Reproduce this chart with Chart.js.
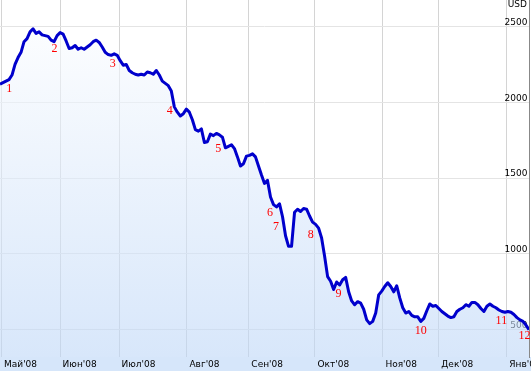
<!DOCTYPE html>
<html>
<head>
<meta charset="utf-8">
<script src="https://cdn.jsdelivr.net/npm/chart.js@4.4.1/dist/chart.umd.min.js"></script>
<style>
  html, body { margin: 0; padding: 0; background: #fff; }
  canvas { display: block; }
</style>
</head>
<body>
<canvas id="rts_chart_area" width="531" height="371"></canvas>
<script>
// one close value (USD) per trading day, May'08 - Jan'09
const rts_values = [
  2120, 2130, 2140, 2150, 2180, 2250, 2295, 2330, 2400, 2420,
  2465, 2485, 2455, 2465, 2445, 2440, 2435, 2410, 2400, 2440,
  2460, 2450, 2405, 2355, 2360, 2375, 2350, 2360, 2350, 2365,
  2380, 2400, 2410, 2395, 2365, 2330, 2315, 2310, 2320, 2310,
  2275, 2245, 2250, 2210, 2195, 2185, 2180, 2185, 2180, 2200,
  2195, 2185, 2210, 2180, 2140, 2125, 2110, 2075, 1970, 1935,
  1910, 1925, 1955, 1935, 1885, 1820, 1810, 1825, 1735, 1740,
  1790, 1780, 1795, 1785, 1770, 1700, 1710, 1720, 1695, 1640,
  1580, 1595, 1645, 1650, 1660, 1640, 1580, 1520, 1465, 1485,
  1375, 1325, 1310, 1330, 1245, 1120, 1050, 1050, 1275, 1295,
  1280, 1300, 1295, 1250, 1210, 1195, 1170, 1105, 985, 850,
  820, 765, 815, 795, 830, 845, 750, 690, 665, 685,
  675, 635, 565, 540, 555, 610, 730, 755, 785, 810,
  785, 750, 790, 710, 645, 610, 620, 595, 585, 585,
  555, 575, 625, 670, 655, 660, 640, 620, 605, 590,
  580, 585, 620, 635, 645, 665, 655, 680, 680, 665,
  640, 620, 655, 670, 655, 645, 630, 620, 615, 620,
  615, 600, 580, 565, 555, 530, 500
];

// month starts, in trading days from the first value
const month_labels = ["Май'08", "Июн'08", "Июл'08", "Авг'08", "Сен'08", "Окт'08", "Ноя'08", "Дек'08", "Янв'09"];
const month_days = [0.5, 20, 39.6, 62.2, 82.8, 104.8, 127.4, 146, 168.6];

const price_ticks = [500, 1000, 1500, 2000, 2500];
const PRICE_MIN = 320;
const PRICE_MAX = 2675;

// red event numbers placed on the chart
const note_labels = ["1", "2", "3", "4", "5", "6", "7", "8", "9", "10", "11", "12"];
const note_days = [3.1, 18.1, 37.5, 56.5, 72.6, 89.8, 91.8, 103.4, 112.6, 140, 166.8, 174.5];
const note_values = [2086, 2352, 2251, 1945, 1690, 1268, 1180, 1125, 736, 492, 560, 461];

const AXIS_FONT = { family: "DejaVu Sans", size: 9 };
const FILL_BOTTOM = "#d6e6fa";

// light blue strip under the plot, behind the month labels
const bottom_strip_plugin = {
  id: "bottom_strip",
  beforeDraw(chart) {
    const ctx = chart.ctx;
    ctx.save();
    ctx.fillStyle = FILL_BOTTOM;
    ctx.fillRect(0, chart.chartArea.bottom, chart.width, chart.height - chart.chartArea.bottom);
    ctx.restore();
  },
};

const notes_plugin = {
  id: "notes",
  afterDatasetsDraw(chart) {
    const ctx = chart.ctx;
    const x = chart.scales.x;
    const y = chart.scales.y;
    ctx.save();
    ctx.fillStyle = "#ff0000";
    ctx.font = "12px 'Liberation Serif'";
    ctx.textAlign = "center";
    ctx.textBaseline = "middle";
    note_labels.forEach((label, i) => {
      ctx.fillText(label, x.getPixelForValue(note_days[i]), y.getPixelForValue(note_values[i]));
    });
    ctx.restore();
  },
};

const currency_plugin = {
  id: "currency",
  afterDraw(chart) {
    const ctx = chart.ctx;
    ctx.save();
    ctx.fillStyle = "#000";
    ctx.font = "9px 'DejaVu Sans'";
    ctx.textAlign = "right";
    ctx.textBaseline = "middle";
    ctx.fillText("USD", chart.chartArea.right - 2, 5);
    ctx.restore();
  },
};

const price_tick_values = (scale) => {
  scale.ticks = price_ticks.map((v) => ({ value: v }));
};

const rts_chart_area = document.getElementById("rts_chart_area").getContext("2d");
const rts_chart = new Chart(rts_chart_area, {
  type: "line",
  data: {
    datasets: [
      {
        label: "rts",
        data: rts_values.map((v, i) => ({ x: i, y: v })),
        borderColor: "#0000cc",
        borderWidth: 3,
        borderJoinStyle: "round",
        pointRadius: 0,
        tension: 0,
        fill: "start",
        backgroundColor: (context) => {
          const chart = context.chart;
          const g = chart.ctx.createLinearGradient(0, 0, 0, chart.height);
          g.addColorStop(0, "rgba(255,255,255,0.6)");
          g.addColorStop(1, "rgba(187,213,247,0.6)");
          return g;
        },
      },
    ],
  },
  options: {
    responsive: false,
    animation: false,
    layout: { padding: 0 },
    plugins: {
      legend: { display: false },
      tooltip: { enabled: false },
    },
    scales: {
      x: {
        type: "linear",
        min: 0,
        max: rts_values.length - 1,
        afterBuildTicks: (scale) => {
          scale.ticks = month_days.map((d) => ({ value: d }));
        },
        afterFit: (scale) => {
          scale.height = 14;
          scale.paddingLeft = 0;
          scale.paddingRight = 0;
        },
        grid: { color: "#d4d4d4", drawTicks: false },
        border: { display: false },
        ticks: {
          autoSkip: false,
          maxRotation: 0,
          align: "start",
          labelOffset: 2.5,
          padding: 2,
          color: "#000",
          font: AXIS_FONT,
          callback: (value, index) => month_labels[index],
        },
      },
      // grid lines and right border, under the data
      y: {
        type: "linear",
        position: "right",
        min: PRICE_MIN,
        max: PRICE_MAX,
        afterBuildTicks: price_tick_values,
        afterFit: (scale) => {
          scale.width = 2;
          scale.paddingTop = 0;
          scale.paddingBottom = 0;
        },
        grid: { color: "#e4e4e4", drawTicks: false },
        border: { display: true, color: "#888" },
        ticks: { display: false },
      },
      // price labels, drawn over the data
      y_labels: {
        type: "linear",
        position: "right",
        z: 1,
        min: PRICE_MIN,
        max: PRICE_MAX,
        afterBuildTicks: price_tick_values,
        afterFit: (scale) => {
          scale.width = 0;
          scale.paddingTop = 0;
          scale.paddingBottom = 0;
        },
        grid: { display: false, drawTicks: false },
        border: { display: false },
        ticks: {
          mirror: true,
          padding: -3.5,
          labelOffset: -4,
          color: "#000",
          font: AXIS_FONT,
          callback: (value) => String(value),
        },
      },
    },
  },
  plugins: [bottom_strip_plugin, notes_plugin, currency_plugin],
});
</script>
</body>
</html>
